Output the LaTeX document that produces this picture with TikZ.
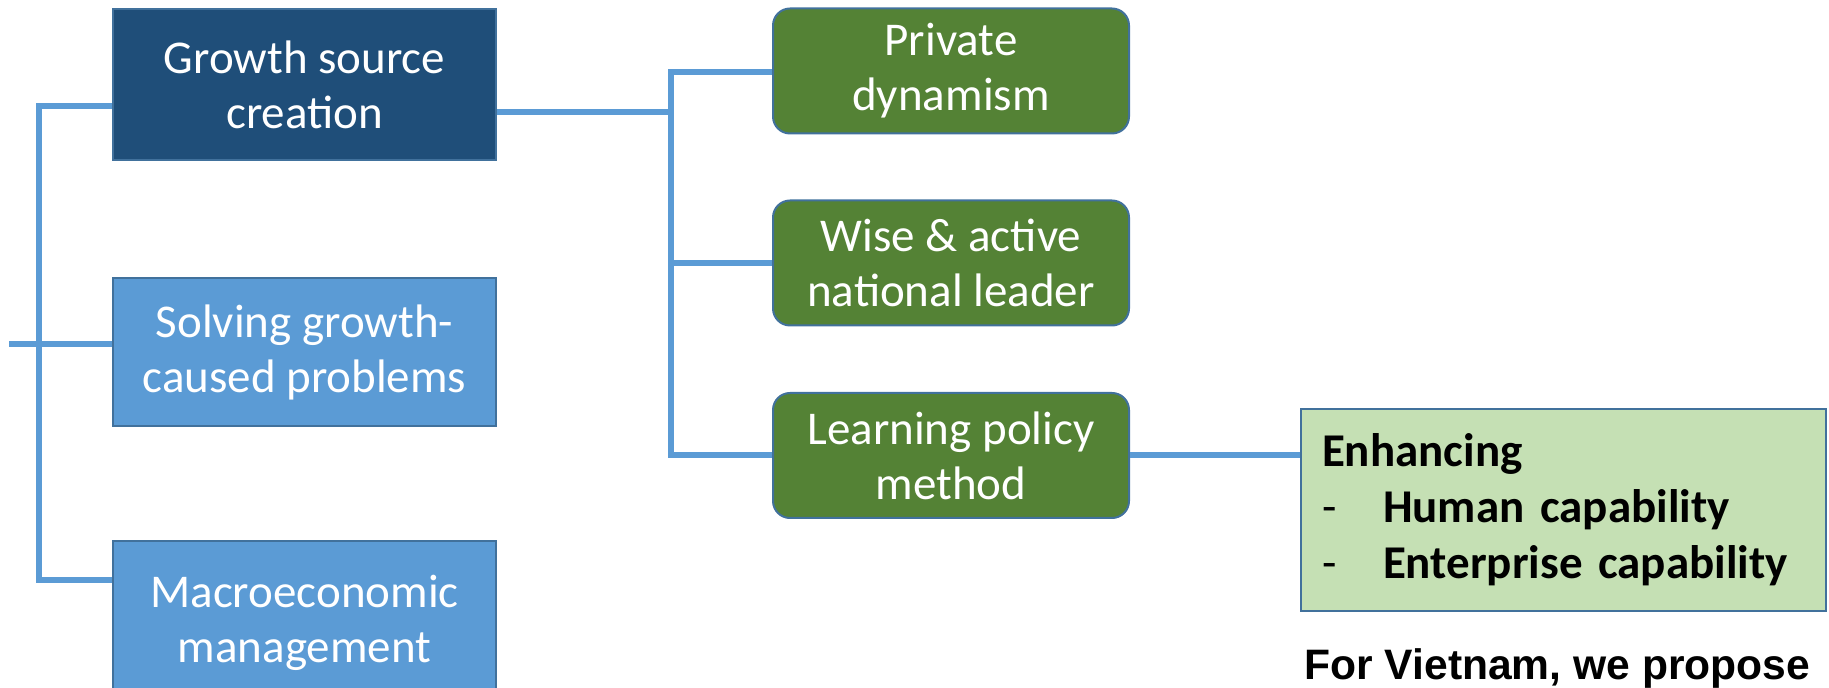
\documentclass[tikz,border=0pt]{standalone}
\usepackage{fontspec}
\setmainfont{Carlito}
\newfontfamily\notefont{Liberation Sans}
\definecolor{darkblue}{HTML}{1F4E79}
\definecolor{midblue}{HTML}{5B9BD5}
\definecolor{leafgreen}{HTML}{548235}
\definecolor{palegreen}{HTML}{C5E0B4}
\definecolor{boxedge}{HTML}{41719C}
\definecolor{linkblue}{HTML}{5B9BD5}
\begin{document}
\begin{tikzpicture}[x=0.5pt,y=-0.5pt,
  pillar/.style={draw=boxedge, line width=1pt, minimum width=191.5pt,
    text=white, align=center, inner sep=0pt,
    font=\fontsize{23.5}{27.5}\selectfont},
  factor/.style={draw=boxedge, line width=1pt, fill=leafgreen,
    rounded corners=8.5pt, minimum width=178pt, minimum height=62.5pt,
    text=white, align=center, inner sep=0pt,
    font=\fontsize{23.5}{27.5}\selectfont},
  proposal/.style={draw=boxedge, line width=1pt, fill=palegreen,
    text width=241.5pt, inner xsep=10.5pt, minimum height=101pt,
    align=left, font=\bfseries\fontsize{23.5}{28}\selectfont},
  link/.style={draw=linkblue, line width=3pt}]

\useasboundingbox (0,0) rectangle (1829,688);

% three pillars on the left
\node[pillar, fill=darkblue, minimum height=75.5pt] (g1) at (304.5,84.5)
  {Growth source\\creation};
\node[pillar, fill=midblue, minimum height=74pt] (g2) at (304.5,352)
  {Solving growth-\\caused problems};
\node[pillar, fill=midblue, minimum height=82pt] (g3) at (304.5,623)
  {Macroeconomic\\management};

% factors of growth source creation
\node[factor] (p1) at (951,71) {Private\\dynamism};
\node[factor] (p2) at (951,263) {Wise \& active\\national leader};
\node[factor] (p3) at (951,455.5) {Learning policy\\method};

% proposal box
\node[proposal] (en) at (1563.5,510)
  {Enhancing\\
   \makebox[30.5pt][l]{\mdseries -}Human capability\\
   \makebox[30.5pt][l]{\mdseries -}Enterprise capability};

\node[anchor=base west, font=\notefont\bfseries\fontsize{21.3}{25}\selectfont,
  inner sep=0pt] (vn) at (1304,679) {For Vietnam, we propose};

% left bracket
\coordinate (lt) at (38.5,106);
\coordinate (lb) at (38.5,580);
\coordinate (lin) at (9,344);
\draw[link] (g1.west |- lt) -- (lt) -- (lb) -- (g3.west |- lb);
\draw[link] (lin) -- (g2.west |- lin);

% right bracket
\coordinate (rj) at (670.5,112);
\coordinate (rt) at (670.5,72);
\coordinate (rb) at (670.5,455);
\draw[link] (g1.east |- rj) -- (rj);
\draw[link] (p1.west |- rt) -- (rt) -- (rb) -- (p3.west |- rb);
\draw[link] (rt |- p2.west) -- (p2.west);

% learning policy to proposal
\draw[link] (p3.east) -- (en.west |- p3.east);
\end{tikzpicture}
\end{document}
